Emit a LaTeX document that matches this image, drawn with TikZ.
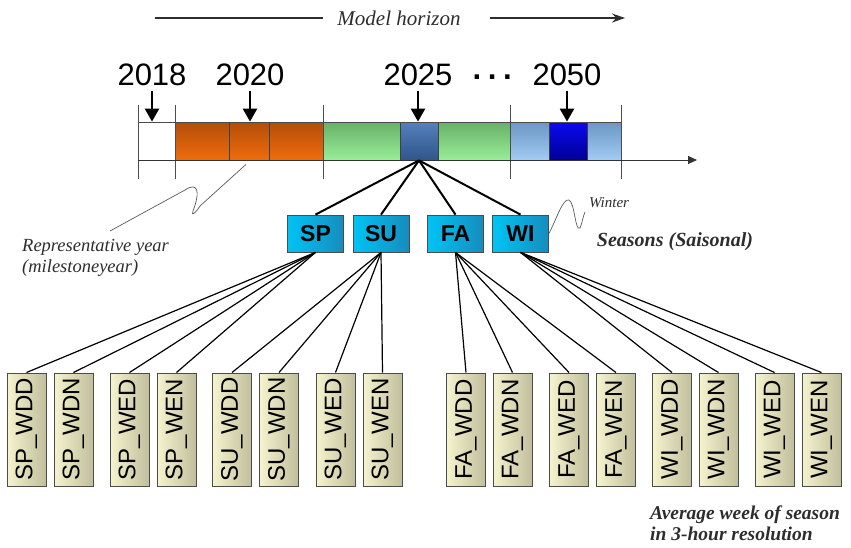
\documentclass[tikz,border=0pt]{standalone}
\usepackage{fontspec}
\setmainfont{Liberation Serif}
\setsansfont{Liberation Sans}
\usetikzlibrary{arrows.meta}
\definecolor{note_gray}{RGB}{45, 45, 45}
\definecolor{or_light}{RGB}{240, 108, 12}
\definecolor{or_dark}{RGB}{178, 78, 10}
\definecolor{gr_light}{RGB}{152, 238, 152}
\definecolor{gr_dark}{RGB}{104, 176, 104}
\definecolor{bl_light}{RGB}{84, 128, 188}
\definecolor{bl_dark}{RGB}{48, 86, 138}
\definecolor{sky_light}{RGB}{162, 204, 244}
\definecolor{sky_dark}{RGB}{108, 150, 196}
\definecolor{navy_light}{RGB}{10, 10, 240}
\definecolor{navy_dark}{RGB}{0, 0, 150}
\definecolor{cyan_light}{RGB}{0, 196, 244}
\definecolor{cyan_dark}{RGB}{22, 140, 190}
\definecolor{slot_light}{RGB}{246, 244, 206}
\definecolor{slot_dark}{RGB}{192, 190, 156}

\begin{document}
\begin{tikzpicture}[x=1pt, y=-1pt,
  seg/.style={draw=black!75, line width=0.8pt, inner sep=0pt, minimum height=38pt},
  year/.style={font=\sffamily\fontsize{31}{31}\selectfont, inner sep=0pt},
  drop/.style={line width=2.4pt, -{Triangle[length=13pt, width=14pt]}},
  season/.style={draw=black!70, line width=0.8pt, left color=cyan_light, right color=cyan_dark,
    minimum width=56pt, minimum height=37pt, inner sep=0pt,
    font=\sffamily\bfseries\fontsize{23}{23}\selectfont},
  slot/.style={draw=black!70, line width=1pt, left color=slot_light, right color=slot_dark,
    minimum width=39pt, minimum height=113pt, inner sep=0pt,
    font=\sffamily\fontsize{24}{24}\selectfont},
  link/.style={line width=1.2pt},
  note/.style={text=note_gray, font=\itshape\fontsize{18.5}{21}\selectfont, align=left, inner sep=0pt}]
\useasboundingbox (0,0) rectangle (851,547);

% model horizon
\node[text=note_gray, font=\itshape\fontsize{21}{21}\selectfont, inner sep=0pt] (mh) at (399,18) {Model horizon};
\coordinate (hz_l) at (155,18);
\coordinate (hz_r) at (625,18);
\draw[line width=1.5pt, note_gray] (hz_l) -- ([xshift=-14pt]mh.west);
\draw[line width=1.5pt, note_gray, -{Stealth[length=13pt, width=9pt]}] ([xshift=29pt]mh.east) -- (hz_r);

% time line
\foreach \name/\xa/\xb/\ca/\cb in {s18/138/175/white/white,
    s20a/175/229/or_dark/or_light, s20/229/269/or_dark/or_light, s20c/269/323/or_dark/or_light,
    s25a/323/400/gr_dark/gr_light, s25/400/438/bl_light/bl_dark, s25c/438/510/gr_dark/gr_light,
    s50a/510/549/sky_dark/sky_light, s50/549/587/navy_light/navy_dark, s50c/587/621/sky_dark/sky_light}
  \node[seg, minimum width={(\xb-\xa)*1pt}, top color=\ca, bottom color=\cb]
    (\name) at ({(\xa+\xb)/2},141) {};
\foreach \x in {138, 175, 323, 510, 621}
  \draw[black!70, line width=0.8pt] (\x,105) -- (\x,179);
\draw[black!70, line width=0.8pt] (138,122) -- (621,122);
\draw[black!80, line width=0.8pt, -{Triangle[length=9pt, width=8pt]}] (138,160) -- (697,160);

% milestone years
\node[year] (t18) at (152,75) {2018};
\node[year] (t20) at (250,75) {2020};
\node[year] (t25) at (418,75) {2025};
\node[year] (tdots) at (493,81) {\textbf{·\hspace{5pt}·\hspace{5pt}·}};
\node[year] (t50) at (567,75) {2050};
\foreach \t/\s in {t18/s18, t20/s20, t25/s25, t50/s50}
  \draw[drop] ([yshift=-5pt]\t.south) -- (\t.south |- \s.north);

\node[note, anchor=north west] (rep) at (22,239) {Representative year\\(milestoneyear)};
\coordinate (rep_tip) at (110,231);
\draw[black!65, line width=0.7pt] (rep_tip) -- (185,190) .. controls (197,182) and (201,190) .. (193,211)
  .. controls (191,216) and (195,214) .. (200,206) -- ([xshift=-3pt, yshift=-4pt]s20.south);

% seasons
\node[season] (sp) at (315.5,233.5) {SP};
\node[season] (su) at (381,233.5) {SU};
\node[season] (fa) at (455.5,233.5) {FA};
\node[season] (wi) at (520.5,233.5) {WI};
\foreach \s in {sp, su, fa, wi}
  \draw[line width=2pt] (s25.south) -- (\s.north);

\node[text=note_gray, font=\itshape\fontsize{15}{15}\selectfont, inner sep=0pt] (winter) at (609,203) {Winter};
\draw[black!65, line width=0.7pt] (wi.east) .. controls (557,218) and (563,198) .. (569,200)
  .. controls (575,203) and (575,232) .. (580,228) .. controls (582,224) and (583,216) .. (585,212);
\node[text=note_gray, font=\bfseries\itshape\fontsize{20}{20}\selectfont, inner sep=0pt] (seasons) at (675,242) {Seasons (Saisonal)};

% average weeks
\foreach \name/\cx/\lab/\up in {spwdd/26.5/SP\_WDD/sp, spwdn/73.5/SP\_WDN/sp,
    spwed/129.5/SP\_WED/sp, spwen/176.5/SP\_WEN/sp,
    suwdd/232/SU\_WDD/su, suwdn/279/SU\_WDN/su, suwed/335.5/SU\_WED/su, suwen/382.5/SU\_WEN/su,
    fawdd/466/FA\_WDD/fa, fawdn/512.5/FA\_WDN/fa, fawed/569/FA\_WED/fa, fawen/616/FA\_WEN/fa,
    wiwdd/672/WI\_WDD/wi, wiwdn/718.5/WI\_WDN/wi, wiwed/774.5/WI\_WED/wi, wiwen/821.5/WI\_WEN/wi}
{
  \node[slot] (\name) at (\cx,429.5) {\rotatebox{90}{\lab}};
  \draw[link] (\up.south) -- (\name.north);
}

\node[text=note_gray, font=\bfseries\itshape\fontsize{19.5}{21}\selectfont, align=left, inner sep=0pt,
  anchor=north west] (avg) at (650,506) {Average week of season\\in 3-hour resolution};
\end{tikzpicture}
\end{document}
